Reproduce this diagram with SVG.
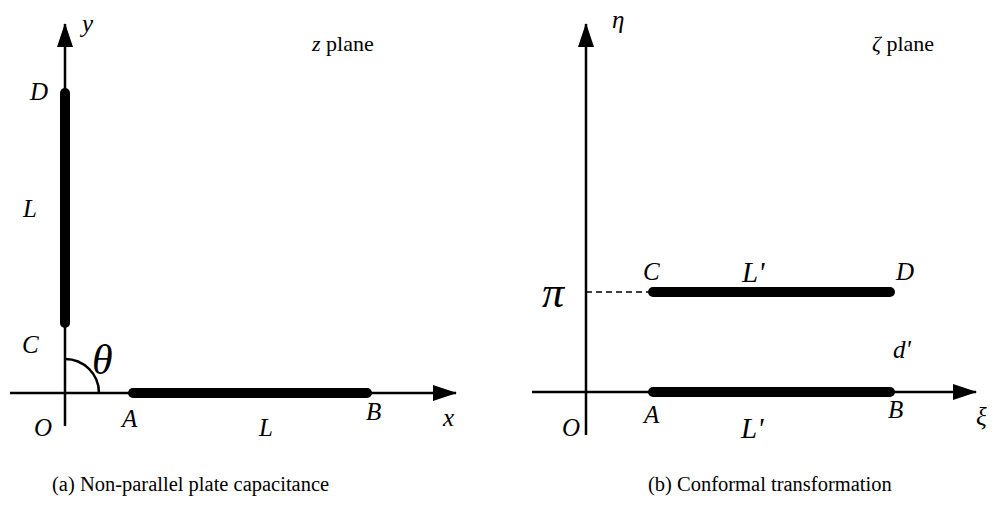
<svg xmlns="http://www.w3.org/2000/svg" width="992" height="506" viewBox="0 0 992 506">
<style>
.ax{stroke:#000;stroke-width:2.5;fill:none}
.pl{stroke:#000;stroke-width:10;stroke-linecap:round;fill:none}
.it{font-family:"Liberation Serif","Times New Roman",serif;font-style:italic;font-size:25px;fill:#000}
.rm{font-family:"Liberation Serif","Times New Roman",serif;font-size:22px;fill:#000}
.cap{font-family:"Liberation Serif","Times New Roman",serif;font-size:20.5px;fill:#000}
</style>
<defs>
<marker id="ah" markerWidth="24" markerHeight="16" refX="23" refY="8" orient="auto" markerUnits="userSpaceOnUse">
<path d="M0,0 L24,8 L0,16 Z" fill="#000"/>
</marker>
</defs>
<g id="connectors">
<line class="ax" x1="65" y1="426" x2="65" y2="24" marker-end="url(#ah)"/>
<line class="ax" x1="10" y1="393" x2="456" y2="393" marker-end="url(#ah)"/>
<path class="ax" d="M65,359 A34,34 0 0 1 99,393"/>
<line class="ax" x1="586" y1="435" x2="586" y2="24" marker-end="url(#ah)"/>
<line class="ax" x1="532" y1="392" x2="976" y2="392" marker-end="url(#ah)"/>
<line x1="586" y1="292" x2="648" y2="292" stroke="#000" stroke-width="1.5" stroke-dasharray="6,4"/>
</g>
<g id="plate-CD-z"><line class="pl" x1="65" y1="93" x2="65" y2="323"/></g>
<g id="plate-AB-z"><line class="pl" x1="133" y1="393" x2="367" y2="393"/></g>
<g id="plate-CD-zeta"><line class="pl" x1="653" y1="292" x2="890" y2="292"/></g>
<g id="plate-AB-zeta"><line class="pl" x1="653" y1="392" x2="890" y2="392"/></g>
<g id="labels-z">
<text class="it" x="82" y="32">y</text>
<text class="it" x="30" y="100">D</text>
<text class="it" x="23" y="217">L</text>
<text class="it" x="22" y="353">C</text>
<text class="it" x="34" y="436">O</text>
<text class="it" x="122" y="427">A</text>
<text class="it" x="259" y="436">L</text>
<text class="it" x="366" y="420">B</text>
<text class="it" x="443" y="426">x</text>
<text class="it" x="92" y="374" style="font-size:42px">θ</text>
<text class="rm" x="312" y="51"><tspan font-style="italic">z</tspan> plane</text>
</g>
<g id="labels-zeta">
<text class="it" x="612" y="28">η</text>
<text class="rm" x="872" y="51"><tspan font-style="italic">ζ</tspan> plane</text>
<text class="it" x="542" y="307" style="font-size:44px">π</text>
<text class="it" x="643" y="280">C</text>
<text class="it" x="742" y="282" style="font-size:29px">L'</text>
<text class="it" x="896" y="280">D</text>
<text class="it" x="893" y="358">d'</text>
<text class="it" x="562" y="436">O</text>
<text class="it" x="644" y="423">A</text>
<text class="it" x="741" y="438" style="font-size:29px">L'</text>
<text class="it" x="888" y="418">B</text>
<text class="it" x="976" y="425">ξ</text>
</g>
<g id="captions">
<text class="cap" x="52" y="491">(a) Non-parallel plate capacitance</text>
<text class="cap" x="648" y="491">(b) Conformal transformation</text>
</g>
</svg>
